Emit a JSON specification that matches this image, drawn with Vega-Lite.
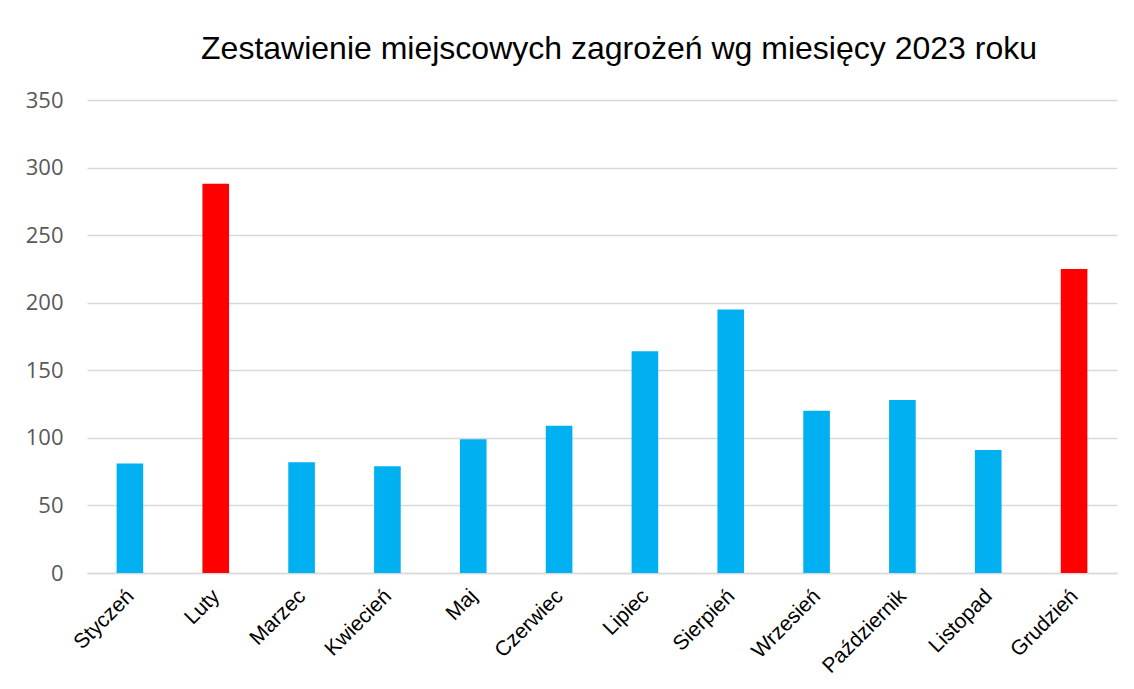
{
  "$schema": "https://vega.github.io/schema/vega-lite/v6.json",
  "width": 1030,
  "height": 473,
  "autosize": {"type": "none"},
  "padding": {"left": 87, "top": 100, "right": 17, "bottom": 116},
  "background": "white",
  "title": {
    "text": "Zestawienie miejscowych zagrożeń wg miesięcy 2023 roku",
    "font": "Liberation Sans",
    "fontSize": 32,
    "fontWeight": "normal",
    "color": "#000000",
    "anchor": "middle",
    "dx": 17,
    "offset": 23
  },
  "data": {
    "values": [
      {"miesiac": "Styczeń", "wartosc": 81, "typ": "n"},
      {"miesiac": "Luty", "wartosc": 288, "typ": "max"},
      {"miesiac": "Marzec", "wartosc": 82, "typ": "n"},
      {"miesiac": "Kwiecień", "wartosc": 79, "typ": "n"},
      {"miesiac": "Maj", "wartosc": 99, "typ": "n"},
      {"miesiac": "Czerwiec", "wartosc": 109, "typ": "n"},
      {"miesiac": "Lipiec", "wartosc": 164, "typ": "n"},
      {"miesiac": "Sierpień", "wartosc": 195, "typ": "n"},
      {"miesiac": "Wrzesień", "wartosc": 120, "typ": "n"},
      {"miesiac": "Październik", "wartosc": 128, "typ": "n"},
      {"miesiac": "Listopad", "wartosc": 91, "typ": "n"},
      {"miesiac": "Grudzień", "wartosc": 225, "typ": "max"}
    ]
  },
  "mark": {"type": "bar"},
  "encoding": {
    "x": {
      "field": "miesiac",
      "type": "nominal",
      "sort": null,
      "title": null,
      "scale": {"paddingInner": 0.69, "paddingOuter": 0.345},
      "axis": {
        "labelAngle": -45,
        "labelFont": "Liberation Sans",
        "labelFontSize": 21,
        "labelColor": "#000000",
        "labelPadding": 12,
        "labelOffset": -7,
        "ticks": false,
        "domainColor": "#D9D9D9",
        "domainWidth": 1.5
      }
    },
    "y": {
      "field": "wartosc",
      "type": "quantitative",
      "title": null,
      "scale": {"domain": [0, 350], "nice": false},
      "axis": {
        "values": [0, 50, 100, 150, 200, 250, 300, 350],
        "labelFont": "Open Sans",
        "labelFontSize": 22,
        "labelColor": "#595959",
        "labelPadding": 24,
        "ticks": false,
        "domain": false,
        "gridColor": "#D9D9D9",
        "gridWidth": 1.5
      }
    },
    "color": {
      "field": "typ",
      "type": "nominal",
      "scale": {"domain": ["n", "max"], "range": ["#00B0F0", "#FF0000"]},
      "legend": null
    }
  },
  "config": {"view": {"stroke": null}}
}
